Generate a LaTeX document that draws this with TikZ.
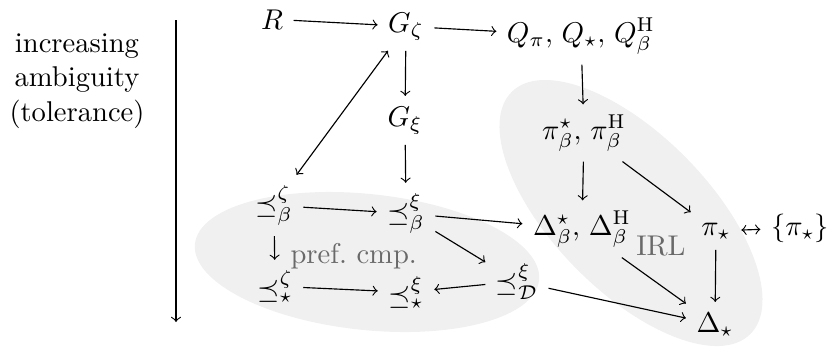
\documentclass[tikz,border=0pt]{standalone}
\usepackage{amsmath,amssymb}
\definecolor{ellfill}{RGB}{240,240,240}
\definecolor{labgray}{RGB}{105,105,105}
\newcommand{\csep}{,\mskip 2.5mu}
\begin{document}
\begin{tikzpicture}[x=0.35pt,y=-0.35pt,
  nd/.style={anchor=base, inner sep=3.5pt},
  ar/.style={->},
  graytxt/.style={text=labgray, inner sep=0pt}]
\useasboundingbox (0,0) rectangle (832,349);
% grey regions
\fill[ellfill, rotate around={-6:(367,262)}] (367,262) ellipse [x radius=173, y radius=68];
\fill[ellfill, rotate around={-45.5:(631,213)}] (631,213) ellipse [x radius=170, y radius=78];
% left label and axis
\node[align=center, inner sep=0pt] (lbl) at (77,81) {increasing\\ambiguity\\(tolerance)};
\coordinate (axtop) at (176,20);
\coordinate (axbot) at (176,322);
\draw[ar] (axtop) -- (axbot);
% nodes
\node[nd] (R)   at (272,29)  {$R$};
\node[nd] (Gz)  at (406,32)  {$G_{\zeta}$};
\node[nd] (Q)   at (581,42)  {$Q_{\pi}\csep Q_{\star}\csep Q^{\mathrm{H}}_{\beta}$};
\node[nd] (Gx)  at (405,126) {$G_{\xi}$};
\node[nd] (pib) at (584,139) {$\pi^{\star}_{\beta}\csep \pi^{\mathrm{H}}_{\beta}$};
\node[nd] (pzb) at (274,213) {$\preceq^{\zeta}_{\beta}$};
\node[nd] (pxb) at (406,221) {$\preceq^{\xi}_{\beta}$};
\node[nd] (Db)  at (582,235) {$\Delta^{\star}_{\beta}\csep \Delta^{\mathrm{H}}_{\beta}$};
\node[nd] (pis) at (716,235) {$\pi_{\star}$};
\node[nd] (piset) at (800,235) {$\{\pi_{\star}\}$};
\node[nd] (pzs) at (275,298) {$\preceq^{\zeta}_{\star}$};
\node[nd] (pxs) at (406,304) {$\preceq^{\xi}_{\star}$};
\node[nd] (pxD) at (517,291) {$\preceq^{\xi}_{\mathcal{D}}$};
\node[nd] (Ds)  at (715,332) {$\Delta_{\star}$};
\node[graytxt, anchor=base west] (pref) at (290,263) {pref.\ cmp.};
\node[graytxt, anchor=base] (irl) at (661,255) {IRL};
% arrows
\draw[ar] (R) -- (Gz);
\draw[ar] (Gz) -- (Q);
\draw[ar] (Gz) -- (Gx);
\draw[ar] (Q) -- (pib);
\draw[<->] (Gz) -- (pzb);
\draw[ar] (Gx) -- (pxb);
\draw[ar] (pzb) -- (pxb);
\draw[ar] (pxb) -- (Db);
\draw[ar] (pxb) -- (pxD);
\draw[ar] (pzb) -- (pzs);
\draw[ar] (pzs) -- (pxs);
\draw[ar] (pxD) -- (pxs);
\draw[ar] (pxD) -- (Ds);
\draw[ar] (pib) -- (Db);
\draw[ar] (pib) -- (pis);
\draw[ar] (Db) -- (Ds);
\draw[ar] (pis) -- (Ds);
\draw[<->] (pis) -- (piset);
\end{tikzpicture}
\end{document}
